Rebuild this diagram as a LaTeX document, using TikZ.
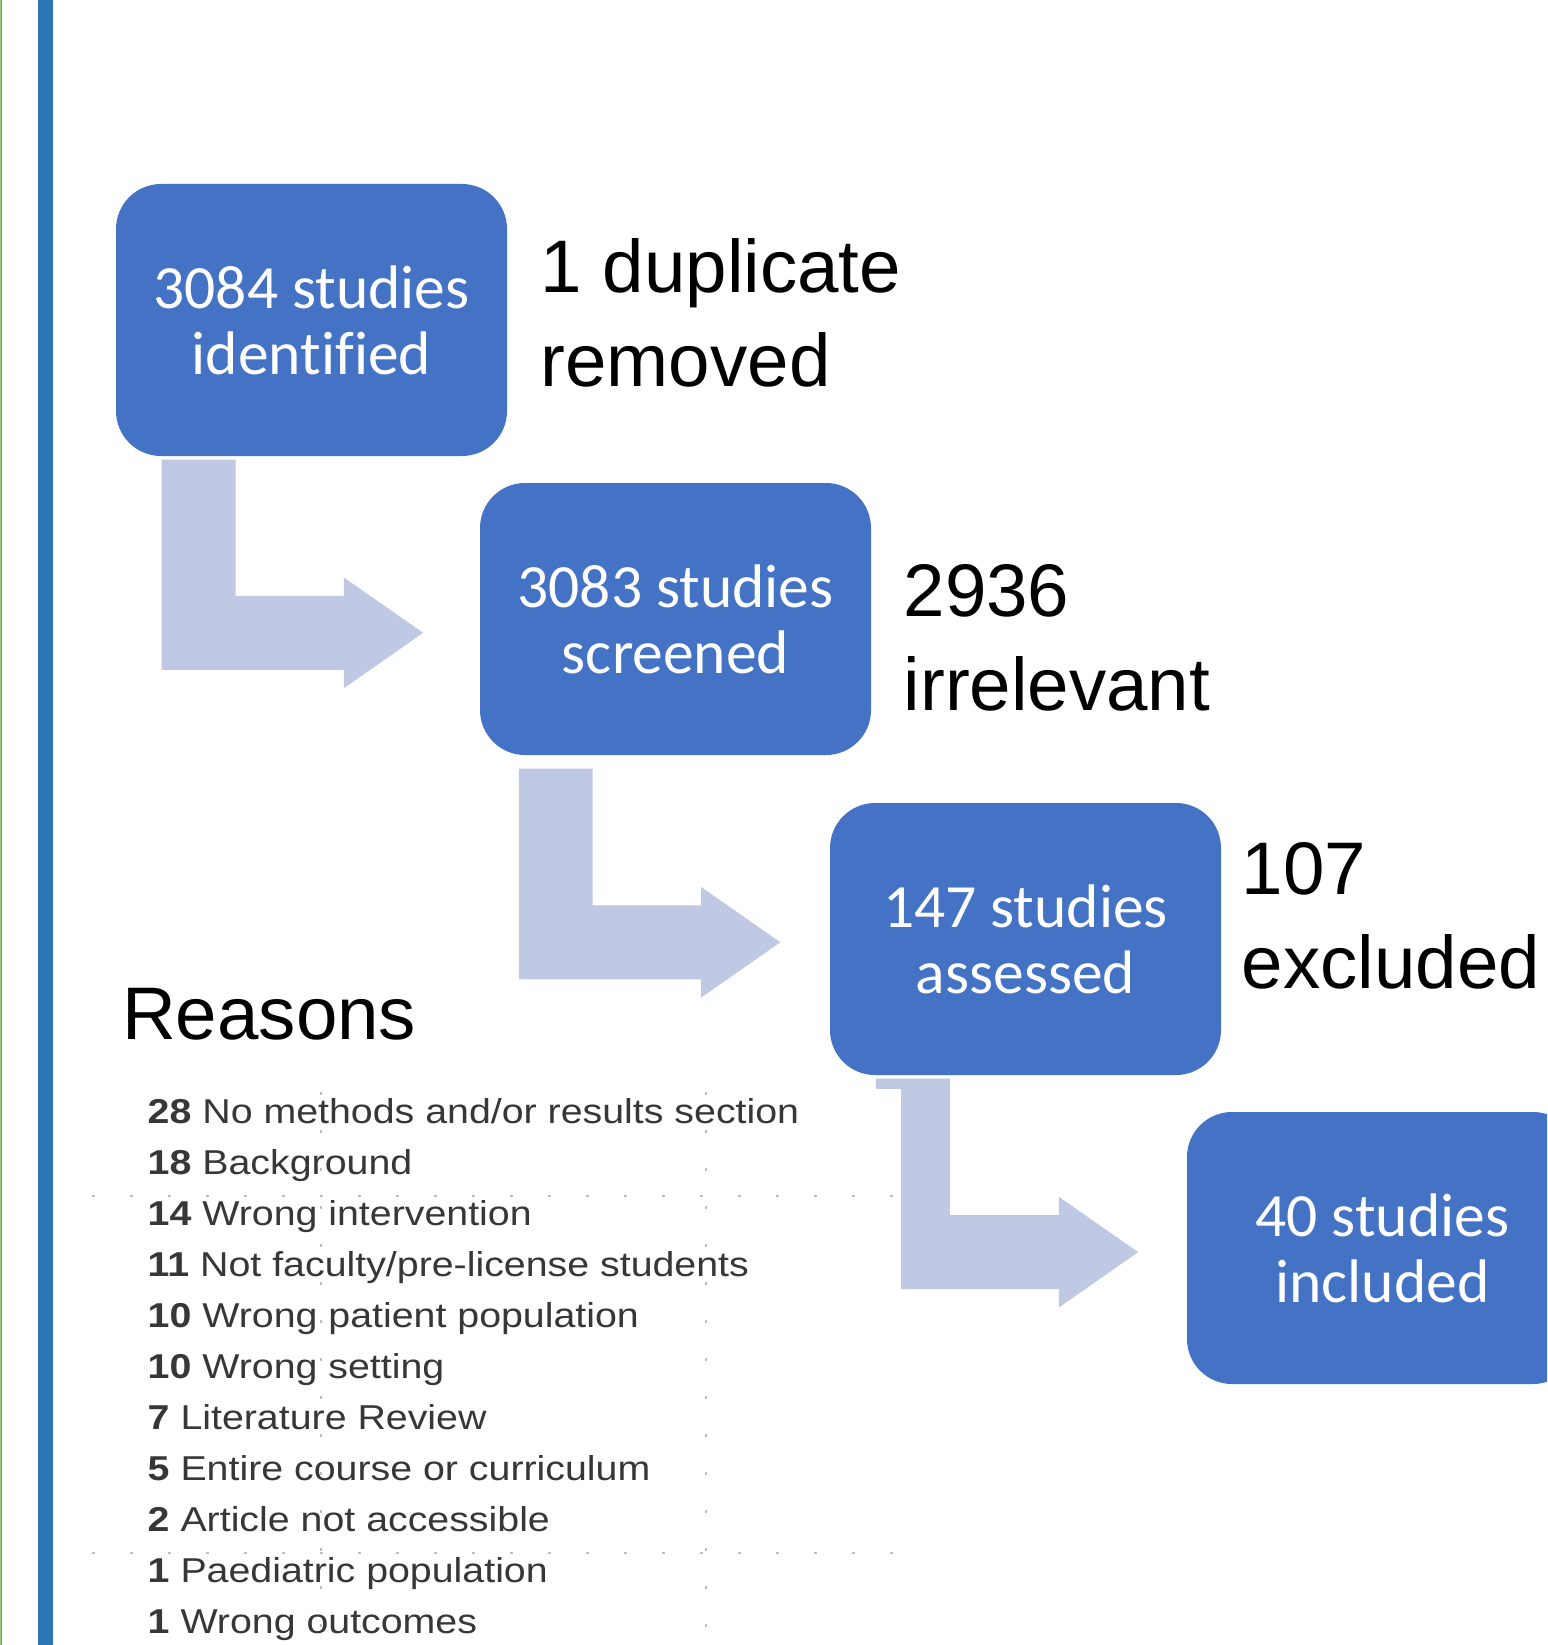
\documentclass[tikz,border=0pt]{standalone}
\usepackage{fontspec}
\setmainfont{Liberation Sans}
\newfontfamily\boxfont[Ligatures=NoCommon]{Carlito}
\newfontfamily\listfont[FakeStretch=1.14]{Liberation Sans}
\usetikzlibrary{calc}
\definecolor{boxblue}{RGB}{68,114,196}
\definecolor{arrowblue}{RGB}{191,201,228}
\definecolor{barblue}{RGB}{46,117,182}
\definecolor{edgegreen}{RGB}{150,195,120}
\definecolor{edgeblue}{RGB}{120,140,200}
\definecolor{listgray}{RGB}{55,55,55}
\definecolor{dotgray}{RGB}{190,190,190}
\tikzset{
  bluebox/.style={fill=boxblue, rounded corners=45pt, minimum width=391pt,
    minimum height=272pt, inner sep=0pt, text=white, align=center,
    font=\boxfont\fontsize{61.5}{66}\selectfont},
  sidelabel/.style={anchor=north west, inner sep=0pt, align=left, text=black,
    font=\fontsize{74.5}{94}\selectfont},
  listtext/.style={anchor=north west, inner sep=0pt, align=left, text=listgray,
    font=\listfont\fontsize{34.5}{51}\selectfont},
  arrowfill/.style={fill=arrowblue},
  dotline/.style={draw=dotgray, line width=2.5pt, dash pattern=on 2.5pt off 35.5pt}
}
\newcommand\bentarrow[3]{%
  \fill[arrowfill] let \p1=(#1), \p2=(#2) in
   (\x1,\y1) -- (\x1+#3,\y1) -- (\x1+#3,\y2+37pt) -- (\x2-79.3pt,\y2+37pt)
   -- (\x2-79.3pt,\y2+55.4pt) -- (\x2,\y2) -- (\x2-79.3pt,\y2-55.4pt)
   -- (\x2-79.3pt,\y2-37pt) -- (\x1,\y2-37pt) -- cycle;}
\begin{document}
\begin{tikzpicture}[x=1pt,y=-1pt]
\clip (0,0) rectangle (1547,1645);
\fill[white] (0,0) rectangle (1547,1645);
% left edge lines and bar
\fill[edgegreen] (0,0) rectangle (0.8,1645);
\fill[edgeblue] (0.8,0) rectangle (1.6,1645);
\fill[barblue] (37.7,0) rectangle (53.3,1645);
% boxes
\node[bluebox] (b1) at (311.5,320) {3084 studies\\identified};
\node[bluebox] (b2) at (675.5,619) {3083 studies\\screened};
\node[bluebox] (b3) at (1025.5,939) {147 studies\\assessed};
\node[bluebox] (b4) at (1382.5,1248) {40 studies\\included};
% arrows
\coordinate (a1s) at ($(b1.south west)+(45.7,3.3)$);
\coordinate (a1t) at ($(b2.west)+(-56.7,13.85)$);
\coordinate (a2s) at ($(b2.south west)+(39,13.3)$);
\coordinate (a2t) at ($(b3.west)+(-49.5,3.3)$);
\coordinate (a3s) at ($(b3.south west)+(46,3.3)$);
\coordinate (a3t) at ($(b4.west)+(-48.7,4.15)$);
\bentarrow{a1s}{a1t}{74pt}
\bentarrow{a2s}{a2t}{73.7pt}
\bentarrow{a3s}{a3t}{74pt}
% side labels
\node[sidelabel] (l1) at (540.5,238.5) {1 duplicate\\removed};
\node[sidelabel] (l2) at (903.5,564) {2936\\irrelevant};
\node[sidelabel] (l3) at (1241.5,841.8) {107\\excluded};
\node[anchor=base west, inner sep=0pt, font=\fontsize{74.5}{80}\selectfont] (reasons) at (122,1039) {Reasons};
% reasons screenshot
\fill[white] (90,1089.3) rectangle (901,1645);
\draw[dotline] (92,1196) -- (901,1196);
\draw[dotline] (92,1553) -- (901,1553);
\draw[dotline] (321,1092) -- (321,1645);
\draw[dotline] (706,1092) -- (706,1645);
\node[listtext] (list) at (147.5,1098.3) {%
\textbf{28} No methods and/or results section\\
\textbf{18} Background\\
\textbf{14} Wrong intervention\\
\textbf{11} Not faculty/pre-license students\\
\textbf{10} Wrong patient population\\
\textbf{10} Wrong setting\\
\textbf{7} Literature Review\\
\textbf{5} Entire course or curriculum\\
\textbf{2} Article not accessible\\
\textbf{1} Paediatric population\\
\textbf{1} Wrong outcomes};
\end{tikzpicture}
\end{document}
